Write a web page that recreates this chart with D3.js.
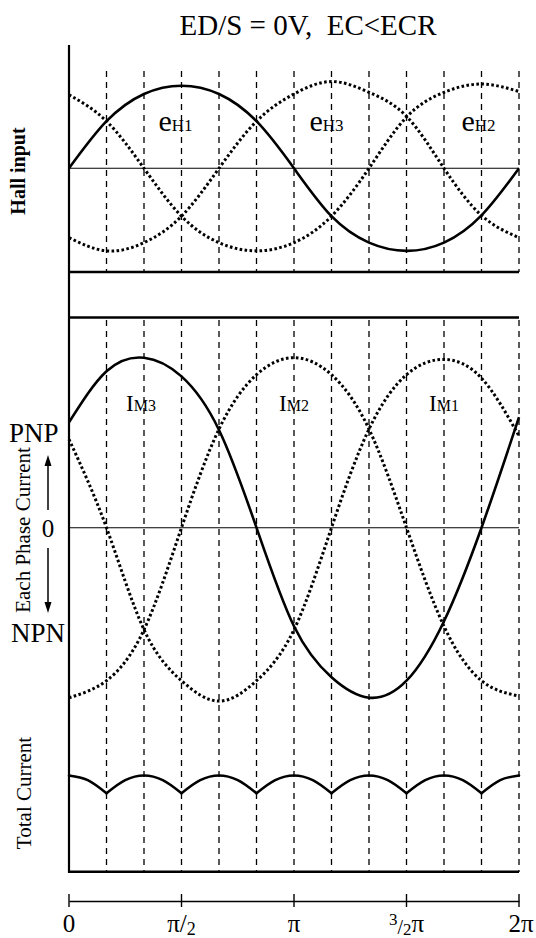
<!DOCTYPE html>
<html>
<head>
<meta charset="utf-8">
<script src="https://cdnjs.cloudflare.com/ajax/libs/d3/7.8.5/d3.min.js"></script>
<style>
  body { margin: 0; background: #fff; }
  text { font-family: "Liberation Serif", "DejaVu Serif", serif; fill: #000; }
</style>
</head>
<body>
<div id="chart"></div>
<script>
// angles in degrees, one reading every 30 deg
var angles = [0, 30, 60, 90, 120, 150, 180, 210, 240, 270, 300, 330, 360];

// hall input signals (relative units)
var eH1 = [0, 0.57, 0.9, 1.0, 0.9, 0.57, 0, -0.58, -0.9, -1.0, -0.9, -0.57, 0];
var eH2 = [0.89, 0.57, 0, -0.58, -0.9, -1.0, -0.9, -0.58, 0, 0.62, 0.92, 1.02, 0.93];
var eH3 = [-0.84, -1.0, -0.9, -0.58, 0, 0.57, 0.9, 1.05, 0.92, 0.63, 0, -0.57, -0.84];

// each phase current
var IM1 = [0.52, 0, -0.6, -0.9, -1.02, -0.9, -0.6, 0, 0.58, 0.9, 0.99, 0.88, 0.54];
var IM2 = [-1.0, -0.9, -0.6, 0, 0.58, 0.9, 1.0, 0.9, 0.58, 0, -0.58, -0.9, -0.99];
var IM3 = [0.62, 0.92, 1.0, 0.89, 0.575, 0, -0.58, -0.88, -1.0, -0.9, -0.55, 0, 0.65];

// total current, one reading every 15 deg
var totalAngles = [0, 15, 30, 45, 60, 75, 90, 105, 120, 135, 150, 165, 180,
                   195, 210, 225, 240, 255, 270, 285, 300, 315, 330, 345, 360];
var totalCurrent = [2.0, 1.93, 1.73, 1.93, 2.0, 1.93, 1.73, 1.93, 2.0, 1.93, 1.73, 1.93, 2.0,
                    1.93, 1.73, 1.93, 2.0, 1.93, 1.73, 1.93, 2.0, 1.93, 1.73, 1.93, 2.0];
var cuspAngles = [30, 90, 150, 210, 270, 330];

var gridAngles = [30, 60, 90, 120, 150, 180, 210, 240, 270, 300, 330, 360];
var tickAngles = [0, 90, 180, 270, 360];

var W = 536, H = 938;
var svg = d3.select("#chart").append("svg").attr("width", W).attr("height", H);

var x = d3.scaleLinear().domain([0, 360]).range([69, 519]);
var yHall = d3.scaleLinear().domain([-1, 1]).range([250.9, 85.7]);
var yPhase = d3.scaleLinear().domain([-1, 1]).range([697.7, 357.7]);
var yTotal = d3.scaleLinear().domain([1.73, 2.0]).range([793.3, 775.5]);

// title
svg.append("text")
  .attr("x", 308).attr("y", 35)
  .attr("text-anchor", "middle")
  .attr("font-size", 29)
  .style("white-space", "pre")
  .text("ED/S = 0V,  EC<ECR");

// dashed grid lines
svg.selectAll(".gridTop").data(gridAngles).enter().append("line")
  .attr("x1", d => x(d)).attr("x2", d => x(d))
  .attr("y1", 71).attr("y2", 272)
  .attr("stroke", "#000").attr("stroke-width", 1.3)
  .attr("stroke-dasharray", "6,5");
svg.selectAll(".gridBot").data(gridAngles).enter().append("line")
  .attr("x1", d => x(d)).attr("x2", d => x(d))
  .attr("y1", 320).attr("y2", 872)
  .attr("stroke", "#000").attr("stroke-width", 1.3)
  .attr("stroke-dasharray", "6,5");

// frame lines
svg.append("line").attr("x1", x(0)).attr("x2", x(0)).attr("y1", 45).attr("y2", 873)
  .attr("stroke", "#000").attr("stroke-width", 2.2);
[272, 317.5, 871.7].forEach(function(yy) {
  svg.append("line").attr("x1", x(0)).attr("x2", x(360)).attr("y1", yy).attr("y2", yy)
    .attr("stroke", "#000").attr("stroke-width", 2.6);
});
// zero lines
svg.append("line").attr("x1", x(0)).attr("x2", x(360)).attr("y1", yHall(0)).attr("y2", yHall(0))
  .attr("stroke", "#000").attr("stroke-width", 1.1);
svg.append("line").attr("x1", x(0)).attr("x2", x(360)).attr("y1", yPhase(0)).attr("y2", yPhase(0))
  .attr("stroke", "#000").attr("stroke-width", 1.1);

function drawCurve(vals, yScale, dotted) {
  var line = d3.line()
    .x((d, i) => x(angles[i]))
    .y(d => yScale(d))
    .curve(d3.curveNatural);
  svg.append("path")
    .attr("d", line(vals))
    .attr("fill", "none")
    .attr("stroke", "#000")
    .attr("stroke-width", dotted ? 3 : 2.6)
    .attr("stroke-dasharray", dotted ? "2.6,2.4" : null);
}

drawCurve(eH2, yHall, true);
drawCurve(eH3, yHall, true);
drawCurve(eH1, yHall, false);

drawCurve(IM1, yPhase, true);
drawCurve(IM2, yPhase, true);
drawCurve(IM3, yPhase, false);

// total current, drawn arc by arc between the cusps
var breaks = [0].concat(cuspAngles).concat([360]);
var totalLine = d3.line()
  .x(d => x(d[0]))
  .y(d => yTotal(d[1]))
  .curve(d3.curveMonotoneX);
for (var k = 0; k < breaks.length - 1; k++) {
  var seg = [];
  totalAngles.forEach(function(a, i) {
    if (a >= breaks[k] && a <= breaks[k + 1]) seg.push([a, totalCurrent[i]]);
  });
  svg.append("path")
    .attr("d", totalLine(seg))
    .attr("fill", "none")
    .attr("stroke", "#000")
    .attr("stroke-width", 2.6)
    .attr("stroke-linecap", "round");
}

// curve labels
function subLabel(px, py, big, small, bigSize, smallSize) {
  var t = svg.append("text").attr("x", px).attr("y", py).attr("text-anchor", "middle");
  t.append("tspan").attr("font-size", bigSize).text(big);
  t.append("tspan").attr("font-size", smallSize).text(small);
}
subLabel(x(90) - 6, 131, "e", "H1", 30, 17);
subLabel(x(210) - 5, 131, "e", "H3", 30, 17);
subLabel(x(330) - 3, 131, "e", "H2", 30, 17);
subLabel(x(60) - 3, 411, "I", "M3", 23, 16);
subLabel(x(180), 411, "I", "M2", 23, 16);
subLabel(x(300), 411, "I", "M1", 23, 16);

// side labels
svg.append("text")
  .attr("transform", "translate(25,171) rotate(-90)")
  .attr("text-anchor", "middle")
  .attr("font-size", 20).attr("font-weight", "bold")
  .text("Hall input");
svg.append("text")
  .attr("transform", "translate(29.5,530) rotate(-90)")
  .attr("text-anchor", "middle")
  .attr("font-size", 21)
  .text("Each Phase Current");
svg.append("text")
  .attr("transform", "translate(30.5,793) rotate(-90)")
  .attr("text-anchor", "middle")
  .attr("font-size", 21)
  .text("Total Current");

svg.append("text").attr("x", 9).attr("y", 442).attr("font-size", 27).text("PNP");
svg.append("text").attr("x", 11).attr("y", 642).attr("font-size", 27).text("NPN");
svg.append("text").attr("x", 48).attr("y", 537).attr("text-anchor", "middle").attr("font-size", 25).text("0");

// arrows
function arrow(x0, yFrom, yTo) {
  var dir = yTo < yFrom ? -1 : 1;
  svg.append("line").attr("x1", x0).attr("x2", x0).attr("y1", yFrom).attr("y2", yTo - dir * 8)
    .attr("stroke", "#000").attr("stroke-width", 1.5);
  svg.append("path")
    .attr("d", "M" + x0 + "," + yTo + "L" + (x0 - 3.5) + "," + (yTo - dir * 11) +
               "L" + (x0 + 3.5) + "," + (yTo - dir * 11) + "Z")
    .attr("fill", "#000");
}
arrow(48, 510, 455);
arrow(48, 548, 613);

// bottom angle axis
var axisG = svg.append("g").attr("transform", "translate(0,901)");
axisG.call(d3.axisBottom(x).tickValues(tickAngles).tickSize(0).tickFormat(""));
axisG.select(".domain").attr("stroke", "#000").attr("stroke-width", 1.4);
axisG.selectAll(".tickMark").data(tickAngles).enter().append("line")
  .attr("x1", d => x(d)).attr("x2", d => x(d))
  .attr("y1", -7).attr("y2", 6)
  .attr("stroke", "#000").attr("stroke-width", 1.4);

var tickLabels = [
  [{t: "0"}],
  [{t: "\u03c0"}, {t: "/"}, {t: "2", s: 18, dy: 3}],
  [{t: "\u03c0"}],
  [{t: "3", s: 17, dy: -7}, {t: "/", s: 20, dy: 2}, {t: "2", s: 17, dy: 3}, {t: "\u03c0", dy: 0}],
  [{t: "2\u03c0"}]
];
tickAngles.forEach(function(a, i) {
  var t = svg.append("text").attr("x", x(a) + (i === 4 ? 2 : 0)).attr("y", 932)
    .attr("text-anchor", "middle").attr("font-size", 25);
  var acc = 0;
  tickLabels[i].forEach(function(p) {
    var dy = (p.dy || 0) - acc;
    acc += dy;
    t.append("tspan").attr("font-size", p.s || 25).attr("dy", dy).text(p.t);
  });
});
</script>
</body>
</html>
